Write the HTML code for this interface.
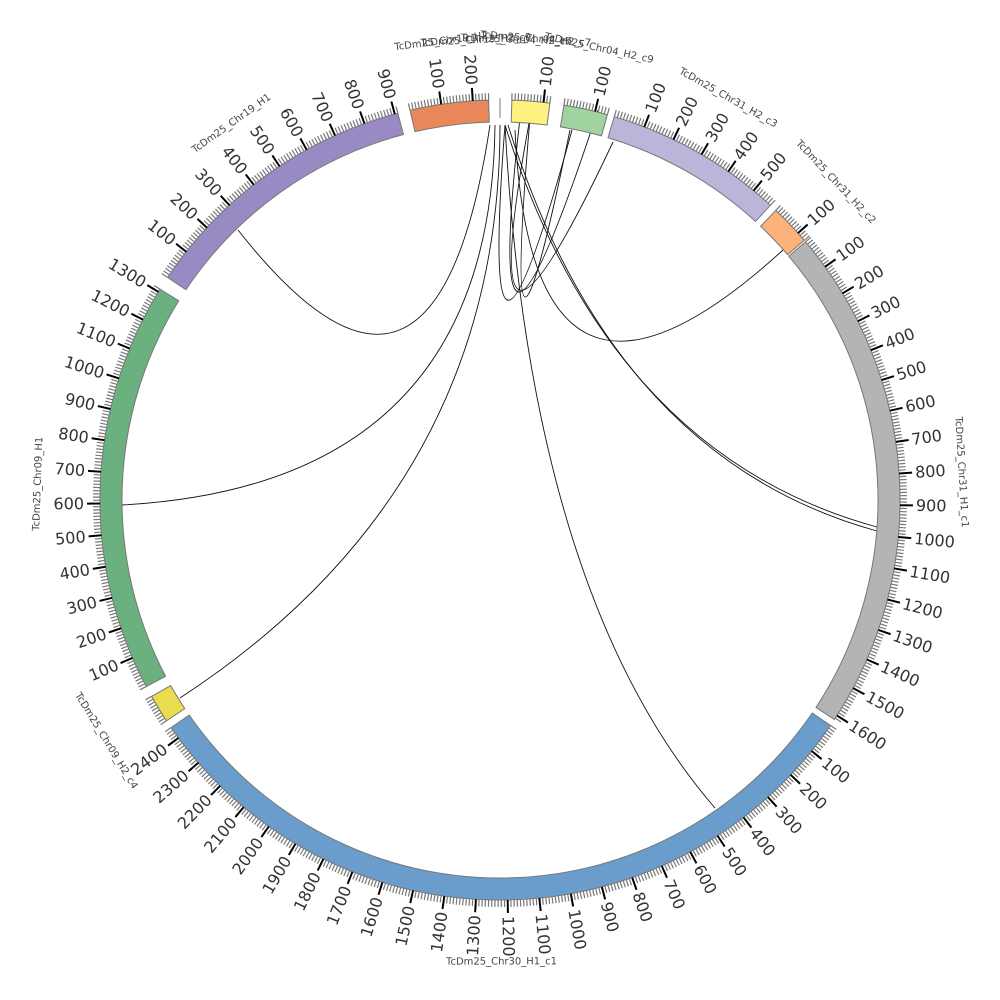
<!DOCTYPE html>
<html><head><meta charset="utf-8"><style>body{margin:0;background:#fff}svg{display:block}</style></head>
<body>
<svg id="s" width="1000" height="1000" viewBox="0 0 1000 1000" xmlns="http://www.w3.org/2000/svg"></svg>
<script>
const S=document.getElementById('s');const cx=500,cy=500,R0=378,R1=400,K=0.0455;
const ns='http://www.w3.org/2000/svg';
function el(t,a,txt){const e=document.createElementNS(ns,t);for(const k in a)e.setAttribute(k,a[k]);if(txt)e.textContent=txt;S.appendChild(e);return e;}
function P(r,a){const t=a*Math.PI/180;return [cx+r*Math.sin(t),cy-r*Math.cos(t)];}
const segs=[
 ['TcDm25_Chr19_H2',347,250,'#e8875a'],
 ['TcDm25_Chr04_H2_c7',1.7,120,'#fdf27f'],
 ['TcDm25_Chr04_H2_c9',9.2,140,'#9fd4a0'],
 ['TcDm25_Chr31_H2_c3',16.6,570,'#bab5d9'],
 ['TcDm25_Chr31_H2_c2',43.6,130,'#fdb27a'],
 ['TcDm25_Chr31_H1_c1',49.8,1615,'#b4b4b4'],
 ['TcDm25_Chr30_H1_c1',124.3,2440,'#6b9dcc'],
 ['TcDm25_Chr09_H2_c4',236.5,90,'#e7dd4e'],
 ['TcDm25_Chr09_H1',242.2,1310,'#6bb180'],
 ['TcDm25_Chr19_H1',303.8,910,'#9a8ac4']];
const links=[[238,230,436,482,490,125],[122,505,491,485,495,125],[180,698,500,489,500,125],
[715,808,530,594,505,125],[877,527,609,454,505,125],[877,531,612,458,508,125],
[783,250,531,480,515,130],[613,142,468,450,530,118],[572,130,478,473,505,125],[598,110,480,470,520,118],[570,130,500,470,530,118]];
links.forEach(l=>el('path',{d:`M${l[0]},${l[1]} Q${l[2]},${l[3]} ${l[4]},${l[5]}`,fill:'none',stroke:'#111','stroke-width':0.9}));
el('line',{x1:500,y1:98,x2:500,y2:118,stroke:'#777','stroke-width':1});
segs.forEach(([nm,a0,len,col])=>{
 const a1=a0+len*K;const large=(a1-a0)>180?1:0;
 const p1=P(R1,a0),p2=P(R1,a1),p3=P(R0,a1),p4=P(R0,a0);
 el('path',{d:`M${p1} A${R1},${R1} 0 ${large} 1 ${p2} L${p3} A${R0},${R0} 0 ${large} 0 ${p4}Z`,fill:col,stroke:'#777','stroke-width':1});
 for(let u=0;u<=len;u+=10){const a=a0+u*K;
  if(u%100==0&&u>0){const q=P(R1,a),w=P(R1+13,a);el('line',{x1:q[0],y1:q[1],x2:w[0],y2:w[1],stroke:'#000','stroke-width':2});
   const t=P(R1+16,a);let norm=((a%360)+360)%360;const right=norm<180;
   const rot=right?a-90:a+90;
   el('text',{x:t[0],y:t[1],transform:`rotate(${rot} ${t[0]} ${t[1]})`,'text-anchor':right?'start':'end','dominant-baseline':'central','font-family':'DejaVu Sans, sans-serif','font-size':16,fill:'#333'},String(u));}
  else{const q=P(R1,a),w=P(R1+7,a);el('line',{x1:q[0],y1:q[1],x2:w[0],y2:w[1],stroke:'#777','stroke-width':1.2});}
 }
 const am=(a0+a1)/2;const n=((am%360)+360)%360;const t=P(462,am);const rot=(n>90&&n<270)?am-180:am;
 el('text',{x:t[0],y:t[1],transform:`rotate(${rot} ${t[0]} ${t[1]})`,'text-anchor':'middle','dominant-baseline':'central','font-family':'DejaVu Sans, sans-serif','font-size':10,fill:'#444'},nm);
});
[['TcDm25_Chr19_H2_c9',-3],['TcDm25_Chr04_H2_c7',2]].forEach(([nm,a])=>{const t=P(460,a);el('text',{x:t[0],y:t[1],transform:`rotate(${a} ${t[0]} ${t[1]})`,'text-anchor':'middle','dominant-baseline':'central','font-family':'DejaVu Sans, sans-serif','font-size':10,fill:'#444'},nm);});
</script>
</body></html>
